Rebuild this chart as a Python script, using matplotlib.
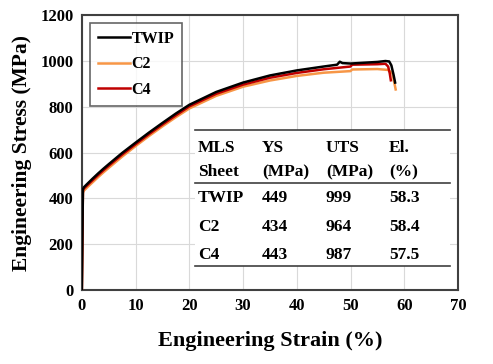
import matplotlib
matplotlib.use('Agg')
import matplotlib.pyplot as plt

# curves
twip_strain = [0, 0.2, 0.4, 1, 2, 3, 4, 5, 7.5, 10, 12.5, 15, 17.5, 20, 25, 30, 35, 40, 45, 47.5, 48, 48.5, 50, 55, 56.5, 57.2, 57.6, 58.0, 58.3]
twip_stress = [0, 440, 449, 463, 486, 508, 529, 549, 598, 643, 687, 729, 770, 808, 864, 905, 936, 958, 975, 983, 996, 990, 988, 995, 999, 997, 980, 940, 905]

c2_strain = [0, 0.2, 0.4, 1, 2, 3, 4, 5, 7.5, 10, 12.5, 15, 17.5, 20, 25, 30, 35, 40, 45, 50, 50.3, 55, 57, 57.8, 58.1, 58.4]
c2_stress = [0, 425, 434, 448, 470, 492, 513, 533, 582, 628, 672, 714, 754, 792, 847, 887, 914, 934, 948, 955, 962, 964, 960, 945, 910, 875]

c4_strain = [0, 0.2, 0.4, 1, 2, 3, 4, 5, 7.5, 10, 12.5, 15, 17.5, 20, 25, 30, 35, 40, 45, 50, 50.3, 55, 56.5, 57, 57.3, 57.5]
c4_stress = [0, 435, 443, 457, 479, 501, 522, 542, 591, 636, 680, 722, 762, 801, 856, 896, 926, 947, 963, 975, 983, 985, 987, 975, 945, 915]

# table
header1 = ['MLS', 'YS', 'UTS', 'El.']
header2 = ['Sheet', '(MPa)', '(MPa)', '(%)']
rows = [['TWIP', '449', '999', '58.3'],
        ['C2', '434', '964', '58.4'],
        ['C4', '443', '987', '57.5']]

plt.rcParams['font.family'] = ['Liberation Serif', 'DejaVu Serif']
plt.rcParams['font.weight'] = 'bold'

fig = plt.figure(figsize=(4.93, 3.64), dpi=100)
ax = fig.add_axes([0.166, 0.203, 0.763, 0.756])

ax.plot(c2_strain, c2_stress, color='#F79646', lw=1.8, label='C2', zorder=3)
ax.plot(c4_strain, c4_stress, color='#C00000', lw=1.8, label='C4', zorder=4)
ax.plot(twip_strain, twip_stress, color='black', lw=1.8, label='TWIP', zorder=5)

ax.set_xlim(0, 70)
ax.set_ylim(0, 1200)
ax.set_xticks(range(0, 71, 10))
ax.set_yticks(range(0, 1201, 200))
ax.grid(True, color='#d9d9d9', lw=0.8)
ax.set_axisbelow(True)
ax.tick_params(length=0, labelsize=12, pad=6)
for s in ax.spines.values():
    s.set_color('#404040')
    s.set_linewidth(1.5)

ax.set_xlabel('Engineering Strain (%)', fontsize=16, fontweight='bold', labelpad=12)
ax.set_ylabel('Engineering Stress (MPa)', fontsize=15.5, fontweight='bold', labelpad=6)

h, l = ax.get_legend_handles_labels()
order = [2, 0, 1]
leg = ax.legend([h[i] for i in order], [l[i] for i in order], loc='upper left',
                fontsize=11.5, frameon=True, fancybox=False, edgecolor='#404040',
                handlelength=2.0, handletextpad=0.1, borderpad=0.5, labelspacing=0.6,
                bbox_to_anchor=(0.0, 1.0))
leg.get_frame().set_linewidth(1.2)
leg.set_zorder(10)

# table drawn in axes fraction coordinates
x0, x1 = 0.30, 0.979
ax.add_patch(plt.Rectangle((x0, 0.087), x1 - x0, 0.496, transform=ax.transAxes,
                           facecolor='white', edgecolor='none', zorder=6))
for yl in [0.583, 0.391, 0.087]:
    ax.plot([x0, x1], [yl, yl], transform=ax.transAxes, color='#404040', lw=1.2, zorder=7)
col_x = [0.309, 0.479, 0.649, 0.816]
for cx, a, b in zip(col_x, header1, header2):
    ax.text(cx, 0.518, a, transform=ax.transAxes, fontsize=12.5, fontweight='bold', va='center', zorder=8)
    ax.text(cx, 0.428, b, transform=ax.transAxes, fontsize=12.5, fontweight='bold', va='center', zorder=8)
row_y = [0.333, 0.23, 0.127]
for yy, r in zip(row_y, rows):
    for cx, t in zip(col_x, r):
        ax.text(cx, yy, t, transform=ax.transAxes, fontsize=12.5, fontweight='bold', va='center', zorder=8)

fig.savefig('out.png', dpi=100)
